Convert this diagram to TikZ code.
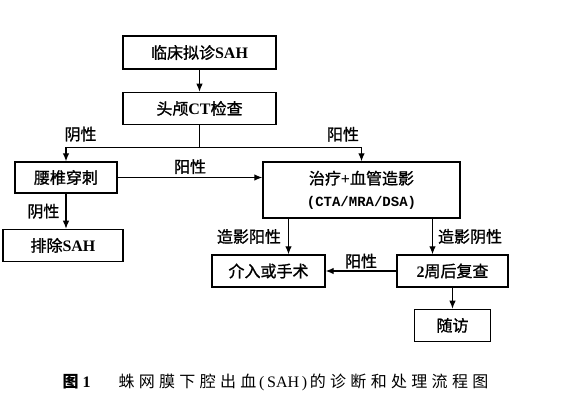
\documentclass[tikz,border=0pt]{standalone}
\usepackage{fontspec}
\setmainfont{Liberation Serif}
\newfontfamily\cjk{Noto Sans CJK SC}
\newfontfamily\cjkb[FakeBold=1.2]{Noto Sans CJK SC}
\newfontfamily\cjkcap[LetterSpace=27]{Noto Sans CJK SC}
\newfontfamily\mono{Liberation Mono}
\newcommand\lat[1]{{\rmfamily\bfseries #1}}
\usetikzlibrary{positioning, arrows.meta, calc}

\begin{document}
\begin{tikzpicture}[x=1pt, y=-1pt, ->, >={Latex[length=8pt,width=6.5pt]}, line width=1.1pt,
		block/.style={draw, line width=1.4pt, minimum height=32pt, inner sep=2pt, font=\cjkb\fontsize{16}{22}\selectfont},
		lbl/.style={font=\cjkb\fontsize{16}{19}\selectfont, inner sep=2pt}]
	\useasboundingbox (0,0) rectangle (565,405);
	
	\node[block, minimum width=153pt, minimum height=33pt] (ClinDx) at (199.5,52.5) {临床拟诊\lat{SAH}};
	\node[block, minimum width=153pt, below=22pt of ClinDx] (HeadCT) {头颅\lat{CT}检查};
	\node[block, minimum width=102pt, minimum height=31pt] (Lumbar) at (66,177.5) {腰椎穿刺};
	\node[block, minimum width=197pt, minimum height=56pt, align=center] (TreatAng) at (361.5,190)
	{治疗\lat{+}血管造影\\{\mono\bfseries\fontsize{14}{17}\selectfont(CTA/MRA/DSA)}};
	\node[block, minimum width=120pt, below=35pt of Lumbar, xshift=-3pt] (ExclSAH) {排除\lat{SAH}};
	\node[block, minimum width=113pt] (Interv) at (268.5,271) {介入或手术};
	\node[block, minimum width=111pt] (Recheck) at (452.5,271) {\lat{2}周后复查};
	\node[block, minimum width=76pt, below=21pt of Recheck] (FollowUp) {随访};
	
	\coordinate (Split) at ([yshift=-22pt]HeadCT.south);
	\draw (ClinDx) -- (HeadCT);
	\draw[-] (HeadCT.south) -- (Split);
	\draw (Split) -| node[lbl, pos=0.5, above right, xshift=-4pt, yshift=3pt] {阴性} (Lumbar.north);
	\draw (Split) -| node[lbl, pos=0.5, above left, yshift=3pt] {阳性} (TreatAng.north);
	\draw (Lumbar.east) -- node[lbl, above, yshift=1pt] {阳性} (Lumbar.east -| TreatAng.west);
	\draw (Lumbar.south) -- node[lbl, left, xshift=-4pt] {阴性} (Lumbar.south |- ExclSAH.north);
	\draw ([xshift=20pt]Interv.north |- TreatAng.south) -- node[lbl, left, xshift=-5pt] {造影阳性} ([xshift=20pt]Interv.north);
	\draw ([xshift=-20pt]Recheck.north |- TreatAng.south) -- node[lbl, right, xshift=3pt] {造影阴性} ([xshift=-20pt]Recheck.north);
	\draw (Recheck.west) -- node[lbl, above] {阳性} (Interv.east);
	\draw (Recheck) -- (FollowUp);
	
	% caption
	\node[font=\bfseries\fontsize{16}{18}\selectfont, anchor=west, inner sep=0pt] (FigNo) at (62,382) {{\cjk 图} 1};
	\node[font=\fontsize{16}{18}\selectfont, anchor=west, inner sep=0pt] (FigText) at (118,382)
	{{\cjkcap 蛛网膜下腔出血}\,(\,SAH\,)\,{\cjkcap 的诊断和处理流程图}};
	
\end{tikzpicture}
\end{document}
